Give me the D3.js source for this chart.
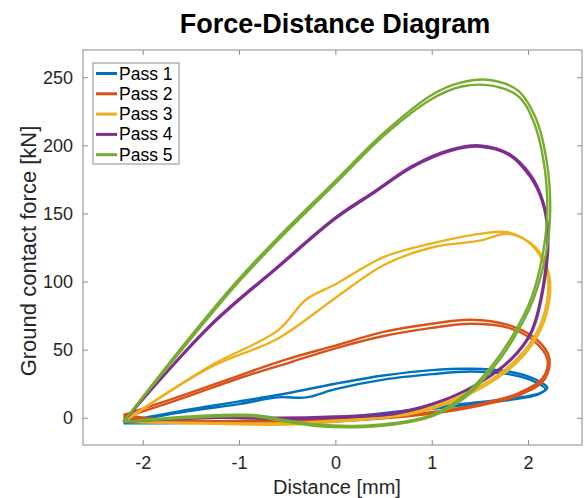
<!DOCTYPE html>
<meta charset="utf-8">
<script src="https://d3js.org/d3.v7.min.js"></script>

<style>
  body { margin: 0; background: white; }
  text { font-family: "Liberation Sans", Arial, sans-serif; }
</style>

<body>
<div id="vis"></div>

<script>
  // series names and MATLAB default colours
  const passNames = ['Pass 1', 'Pass 2', 'Pass 3', 'Pass 4', 'Pass 5']
  const passColors = ['#0072BD', '#D95319', '#EDB120', '#7E2F8E', '#77AC30']

  const xTicks = [-2, -1, 0, 1, 2]
  const yTicks = [0, 50, 100, 150, 200, 250]

  // each pass was run twice, so two loops per pass: [distance mm, force kN]
  const pass1a = [[-2.2,-4],[-1.6,4],[-1.0,10],[-0.6,15],[-0.3,15],[0,21],[0.5,28],[1.0,32],[1.4,34],[1.8,32],[2.05,27],[2.18,21],[2.1,17],[1.8,13],[1.3,9],[0.7,4],[0,-1],[-0.6,-3],[-1.2,-3.5],[-1.8,-4],[-2.2,-4]]
  const pass1b = [[-2.2,-3],[-1.6,5],[-1.0,12],[-0.5,18],[0,25],[0.5,31],[1.0,35],[1.4,36],[1.8,34],[2.08,28],[2.2,22],[2.12,18],[1.8,14],[1.3,10],[0.7,5],[0,0],[-0.6,-2],[-1.2,-3],[-1.8,-3.5],[-2.2,-3]]

  const pass2a = [[-2.2,0],[-1.6,14],[-1.0,29],[-0.5,40],[0,51],[0.5,60],[1.0,66],[1.4,69],[1.8,66],[2.05,57],[2.2,43],[2.15,29],[1.9,18],[1.5,10],[1.0,4],[0.4,0],[-0.3,-2],[-1.0,-2.5],[-1.7,-2],[-2.2,0]]
  const pass2b = [[-2.2,2],[-1.6,16],[-1.0,31],[-0.5,43],[0,53],[0.5,63],[1.0,69],[1.4,72],[1.8,68],[2.08,58],[2.22,44],[2.17,28],[1.92,17],[1.5,9],[1.0,3],[0.4,-1],[-0.3,-3],[-1.0,-3],[-1.7,-2],[-2.2,2]]

  const pass3a = [[-2.2,-3],[-1.3,38],[-0.6,64],[-0.3,87],[0.0,98],[0.5,118],[1.0,128],[1.5,135],[1.8,136],[2.05,126],[2.2,105],[2.2,87],[2.12,67],[1.95,48],[1.68,31],[1.3,16],[0.8,4],[0,-2],[-0.5,-4],[-1.2,-4],[-2.2,-3]]
  const pass3b = [[-2.2,-3],[-1.3,37],[-0.6,58],[0,88],[0.5,112],[1.0,125],[1.5,130],[1.8,135],[2.08,125],[2.22,104],[2.22,86],[2.14,66],[1.97,47],[1.7,30],[1.32,15],[0.8,3],[0,-3],[-0.5,-5],[-1.2,-4.5],[-2.2,-3]]

  const pass4a = [[-2.2,-3],[-1.3,67],[-0.6,110],[0,146],[0.4,165],[0.8,184],[1.2,196],[1.5,199],[1.8,193],[2.02,177],[2.15,158],[2.2,136],[2.16,99],[2.03,63],[1.82,43],[1.5,26],[1.16,14],[0.64,4],[0,1],[-0.6,0],[-1.2,1],[-1.8,-1],[-2.2,-3]]
  const pass4b = [[-2.2,-3],[-1.3,68],[-0.6,111],[0,147],[0.4,166],[0.8,185],[1.2,197],[1.5,200],[1.8,194],[2.03,178],[2.16,158],[2.21,136],[2.17,99],[2.04,63],[1.83,43],[1.51,26],[1.17,14],[0.64,3],[0,0],[-0.6,-1],[-1.2,0],[-1.8,-1.5],[-2.2,-3]]

  const pass5a = [[-2.2,-3],[-1.5,58],[-1.0,100],[-0.6,130],[0,172],[0.5,207],[1.0,234],[1.3,243],[1.6,244],[1.9,236],[2.06,217],[2.16,189],[2.2,155],[2.16,123],[2.03,87],[1.82,58],[1.6,36],[1.33,16],[1.0,2],[0.6,-4],[0.2,-6],[-0.2,-5],[-0.5,-2],[-0.85,2],[-1.5,1],[-2.2,-3]]
  const pass5b = [[-2.2,-3],[-1.5,60],[-1.0,102],[-0.6,132],[0,174],[0.5,209],[1.0,237],[1.3,246],[1.6,248],[1.9,240],[2.08,220],[2.19,190],[2.23,155],[2.19,122],[2.05,86],[1.84,57],[1.62,35],[1.35,15],[1.0,1],[0.6,-5],[0.2,-7],[-0.2,-6],[-0.5,-3],[-0.85,1],[-1.5,0],[-2.2,-3]]

  const passLoops = [[pass1a, pass1b], [pass2a, pass2b], [pass3a, pass3b], [pass4a, pass4b], [pass5a, pass5b]]

  const width = 585, height = 498
  const plotLeft = 83, plotRight = 582, plotTop = 50, plotBottom = 445

  const svg = d3.select('#vis').append('svg')
    .attr('width', width)
    .attr('height', height)

  const x = d3.scaleLinear().domain([-2.62, 2.56]).range([plotLeft, plotRight])
  const y = d3.scaleLinear().domain([-20, 270]).range([plotBottom, plotTop])

  // plot box
  svg.append('rect')
    .attr('x', plotLeft).attr('y', plotTop)
    .attr('width', plotRight - plotLeft).attr('height', plotBottom - plotTop)
    .attr('fill', 'white')
    .attr('stroke', '#8c8c8c')
    .attr('stroke-width', 1)

  // axes with inward ticks on all four sides, MATLAB style hyphen minus
  const plain = function (d) { return String(d) }
  const tickColor = '#8c8c8c'
  const xAxisB = svg.append('g').attr('transform', 'translate(0,' + plotBottom + ')')
    .call(d3.axisBottom(x).tickValues(xTicks).tickSize(-5).tickPadding(11).tickFormat(plain))
  const xAxisT = svg.append('g').attr('transform', 'translate(0,' + plotTop + ')')
    .call(d3.axisTop(x).tickValues(xTicks).tickSize(-5).tickFormat(''))
  const yAxisL = svg.append('g').attr('transform', 'translate(' + plotLeft + ',0)')
    .call(d3.axisLeft(y).tickValues(yTicks).tickSize(-5).tickPadding(10).tickFormat(plain))
  const yAxisR = svg.append('g').attr('transform', 'translate(' + plotRight + ',0)')
    .call(d3.axisRight(y).tickValues(yTicks).tickSize(-5).tickFormat(''))

  ;[xAxisB, xAxisT, yAxisL, yAxisR].forEach(function (g) {
    g.select('.domain').remove()
    g.selectAll('line').attr('stroke', tickColor)
    g.selectAll('text')
      .attr('fill', '#262626')
      .style('font-size', '18px')
      .style('font-family', '"Liberation Sans", Arial, sans-serif')
  })

  // the loops
  const line = d3.line()
    .x(function (d) { return x(d[0]) })
    .y(function (d) { return y(d[1]) })
    .curve(d3.curveCatmullRom.alpha(0.5))

  passLoops.forEach(function (loops, i) {
    loops.forEach(function (loop) {
      svg.append('path')
        .datum(loop)
        .attr('d', line)
        .attr('fill', 'none')
        .attr('stroke', passColors[i])
        .attr('stroke-width', 2.4)
        .attr('stroke-linejoin', 'round')
    })
  })

  // legend
  const legend = svg.append('g')
  legend.append('rect')
    .attr('x', 93).attr('y', 63)
    .attr('width', 86).attr('height', 101)
    .attr('fill', 'white')
    .attr('stroke', '#8c8c8c')
    .attr('stroke-width', 1)

  passNames.forEach(function (name, i) {
    const cy = 73.5 + i * 20.3
    legend.append('line')
      .attr('x1', 96).attr('x2', 117)
      .attr('y1', cy).attr('y2', cy)
      .attr('stroke', passColors[i])
      .attr('stroke-width', 3)
    legend.append('text')
      .attr('x', 119).attr('y', cy + 6)
      .attr('fill', '#000')
      .style('font-size', '17.5px')
      .text(name)
  })

  // title and labels
  svg.append('text')
    .attr('x', 335).attr('y', 33)
    .attr('text-anchor', 'middle')
    .style('font-size', '27px')
    .style('font-weight', 'bold')
    .attr('fill', '#000')
    .text('Force-Distance Diagram')

  svg.append('text')
    .attr('x', 337).attr('y', 494)
    .attr('text-anchor', 'middle')
    .style('font-size', '20px')
    .attr('fill', '#262626')
    .text('Distance [mm]')

  svg.append('text')
    .attr('transform', 'translate(36,251) rotate(-90)')
    .attr('text-anchor', 'middle')
    .style('font-size', '22px')
    .attr('fill', '#262626')
    .text('Ground contact force [kN]')
</script>
</body>
